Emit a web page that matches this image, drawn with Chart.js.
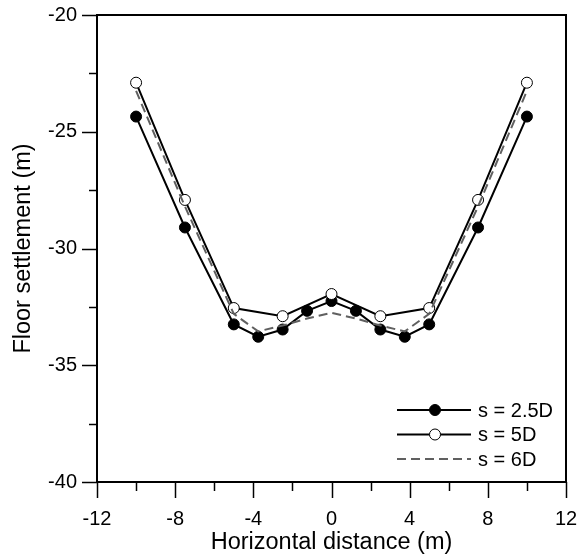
<!DOCTYPE html>
<html>
<head>
<meta charset="utf-8">
<script src="https://cdn.jsdelivr.net/npm/chart.js@4"></script>
<style>
    body { margin: 0; background: #fff; }
    canvas { display: block; }
</style>
</head>
<body>
<canvas id="settlementChart" width="579" height="559"></canvas>
<script>
// Data
const xFine = [-10, -7.5, -5, -3.75, -2.5, -1.25, 0, 1.25, 2.5, 3.75, 5, 7.5, 10];
const xCoarse = [-10, -7.5, -5, -2.5, 0, 2.5, 5, 7.5, 10];

const s25D = [-24.35, -29.1, -33.25, -33.78, -33.47, -32.67, -32.25, -32.67, -33.47, -33.78, -33.25, -29.1, -24.35];
const s5D = [-22.9, -27.92, -32.55, -32.9, -31.95, -32.9, -32.55, -27.92, -22.9];
const s6D = [-23.25, -28.2, -32.8, -33.55, -33.3, -33.0, -32.75, -33.0, -33.3, -33.55, -32.8, -28.2, -23.25];

const seriesLabels = ["s = 2.5D", "s = 5D", "s = 6D"];

const xTicks = [-12, -8, -4, 0, 4, 8, 12];
const yTicks = [-40, -35, -30, -25, -20];

const FONT = "'Liberation Sans', Arial, sans-serif";

const toPoints = (xs, ys) => xs.map((x, i) => ({ x: x, y: ys[i] }));

/**
 * Frame box and tick marks (major + minor, drawn outward)
 */
const framePlugin = {
    id: "frame",
    afterDraw(chart) {
        const { ctx, chartArea: a, scales } = chart;
        ctx.save();
        ctx.strokeStyle = "#000";
        ctx.lineWidth = 2;
        ctx.strokeRect(a.left, a.top, a.right - a.left, a.bottom - a.top);

        ctx.lineWidth = 1.5;
        // x ticks: major every 4, minor every 2
        for (let v = -12; v <= 12; v += 2) {
            const px = Math.round(scales.x.getPixelForValue(v)) + 0.5;
            const len = v % 4 === 0 ? 16 : 9;
            ctx.beginPath();
            ctx.moveTo(px, a.bottom);
            ctx.lineTo(px, a.bottom + len);
            ctx.stroke();
        }
        // y ticks: major every 5, minor every 2.5
        for (let v = -40; v <= -20; v += 2.5) {
            const py = Math.round(scales.y.getPixelForValue(v)) + 0.5;
            const len = v % 5 === 0 ? 15 : 8;
            ctx.beginPath();
            ctx.moveTo(a.left, py);
            ctx.lineTo(a.left - len, py);
            ctx.stroke();
        }
        ctx.restore();
    },
};

/**
 * Legend drawn inside the plot, bottom right
 */
const legendPlugin = {
    id: "insideLegend",
    afterDatasetsDraw(chart) {
        const { ctx } = chart;
        const lineX0 = 397;
        const lineX1 = 471;
        const markX = 435;
        const textX = 478;
        const rowY = [410, 434.5, 459];

        ctx.save();
        chart.data.datasets.forEach((ds, i) => {
            const y = rowY[i];
            ctx.strokeStyle = ds.borderColor;
            ctx.lineWidth = ds.borderWidth;
            ctx.setLineDash(ds.borderDash || []);
            ctx.beginPath();
            ctx.moveTo(lineX0, y);
            ctx.lineTo(lineX1, y);
            ctx.stroke();
            ctx.setLineDash([]);

            if (ds.pointRadius > 0) {
                ctx.beginPath();
                ctx.arc(markX, y, ds.pointRadius, 0, Math.PI * 2);
                ctx.fillStyle = ds.pointBackgroundColor;
                ctx.fill();
                ctx.lineWidth = ds.pointBorderWidth;
                ctx.strokeStyle = ds.pointBorderColor;
                ctx.stroke();
            }

            ctx.fillStyle = "#000";
            ctx.font = `20px ${FONT}`;
            ctx.textAlign = "left";
            ctx.textBaseline = "middle";
            ctx.fillText(ds.label, textX, y + 1);
        });
        ctx.restore();
    },
};

new Chart(document.getElementById("settlementChart"), {
    type: "scatter",
    data: {
        datasets: [
            {
                label: seriesLabels[0],
                data: toPoints(xFine, s25D),
                showLine: true,
                borderColor: "#000",
                borderWidth: 2,
                pointRadius: 5.5,
                pointBackgroundColor: "#000",
                pointBorderColor: "#000",
                pointBorderWidth: 1,
                order: 3,
            },
            {
                label: seriesLabels[1],
                data: toPoints(xCoarse, s5D),
                showLine: true,
                borderColor: "#000",
                borderWidth: 2,
                pointRadius: 5.5,
                pointBackgroundColor: "#fff",
                pointBorderColor: "#000",
                pointBorderWidth: 1,
                order: 2,
            },
            {
                label: seriesLabels[2],
                data: toPoints(xFine, s6D),
                showLine: true,
                borderColor: "#606060",
                borderWidth: 2,
                borderDash: [9, 5],
                pointRadius: 0,
                order: 1,
            },
        ],
    },
    options: {
        responsive: false,
        animation: false,
        events: [],
        layout: { padding: { left: 0, right: 13, top: 15, bottom: 0 } },
        plugins: {
            legend: { display: false },
            tooltip: { enabled: false },
        },
        scales: {
            x: {
                type: "linear",
                min: -12,
                max: 12,
                afterBuildTicks: (scale) => {
                    scale.ticks = xTicks.map((v) => ({ value: v }));
                },
                afterFit: (scale) => {
                    scale.height = 77;
                    scale.paddingLeft = 0;
                    scale.paddingRight = 0;
                },
                grid: { display: false, drawTicks: false },
                border: { display: false },
                ticks: {
                    padding: 25,
                    color: "#000",
                    font: { family: FONT, size: 20 },
                    maxRotation: 0,
                },
                title: {
                    display: true,
                    text: "Horizontal distance (m)",
                    color: "#000",
                    font: { family: FONT, size: 23.5 },
                    padding: { top: 0, bottom: 2 },
                },
            },
            y: {
                type: "linear",
                min: -40,
                max: -20,
                afterBuildTicks: (scale) => {
                    scale.ticks = yTicks.map((v) => ({ value: v }));
                },
                afterFit: (scale) => {
                    scale.width = 97;
                    scale.paddingTop = 0;
                    scale.paddingBottom = 0;
                },
                grid: { display: false, drawTicks: false },
                border: { display: false },
                ticks: {
                    padding: 20,
                    color: "#000",
                    font: { family: FONT, size: 20 },
                },
                title: {
                    display: true,
                    text: "Floor settlement (m)",
                    color: "#000",
                    font: { family: FONT, size: 23.5 },
                    padding: { top: 9, bottom: 0 },
                },
            },
        },
    },
    plugins: [framePlugin, legendPlugin],
});
</script>
</body>
</html>
